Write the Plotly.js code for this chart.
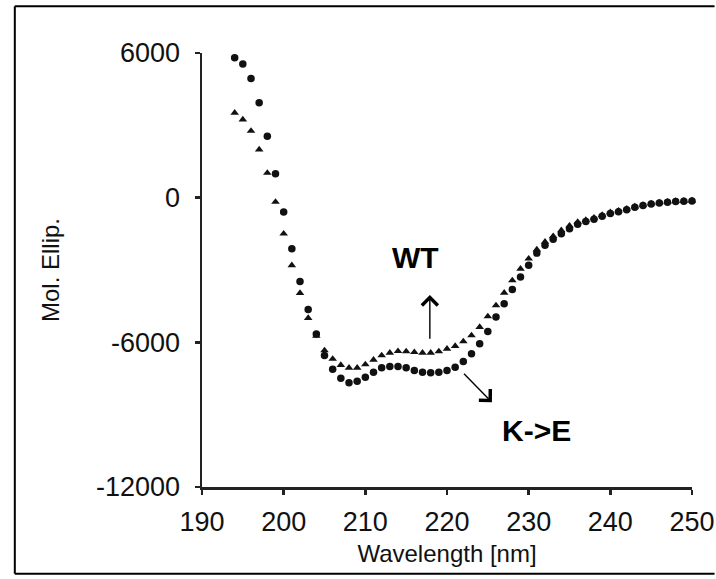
<!DOCTYPE html>
<html>
<head>
<meta charset="utf-8">
<script src="https://cdn.plot.ly/plotly-3.0.1.min.js"></script>
<style>
  html, body { margin: 0; padding: 0; background: #fff; overflow: hidden; }
  #chart { width: 716px; height: 579px; }
</style>
</head>
<body>
<div id="chart"></div>
<script>
// Wavelength (nm)
const wavelength = [194,195,196,197,198,199,200,201,202,203,204,205,206,207,208,209,210,211,212,213,214,215,216,217,218,219,220,221,222,223,224,225,226,227,228,229,230,231,232,233,234,235,236,237,238,239,240,241,242,243,244,245,246,247,248,249,250];

// WT (triangles)
const wtValues = [3517,3239,2769,1993,1025,-179,-1495,-2808,-3957,-4995,-5730,-6336,-6690,-6940,-7057,-7057,-6919,-6725,-6545,-6434,-6365,-6379,-6407,-6434,-6434,-6379,-6268,-6157,-5963,-5714,-5368,-4925,-4468,-3944,-3431,-2948,-2533,-2150,-1830,-1600,-1355,-1160,-1010,-930,-830,-720,-610,-540,-460,-370,-300,-240,-200,-170,-140,-130,-120];

// K->E (circles)
const keValues = [5800,5539,4941,3932,2549,997,-594,-2117,-3472,-4634,-5650,-6544,-7120,-7490,-7680,-7611,-7445,-7237,-7058,-7002,-7002,-7058,-7168,-7237,-7266,-7237,-7168,-7029,-6794,-6477,-6062,-5548,-4953,-4401,-3805,-3293,-2808,-2300,-1977,-1728,-1495,-1287,-1100,-990,-890,-770,-660,-580,-500,-400,-330,-260,-220,-190,-160,-150,-140];

const xTicks = [190,200,210,220,230,240,250];
const yTicks = [-12000,-6000,0,6000];
const yTickText = ['-12000','-6000','0','6000'];

const seriesNames = ['WT', 'K->E'];

const traces = [
  {
    x: wavelength, y: keValues, name: seriesNames[1], type: 'scatter', mode: 'markers',
    marker: { symbol: 'circle', size: 7.5, color: '#111' }, cliponaxis: false
  },
  {
    x: wavelength, y: wtValues, name: seriesNames[0], type: 'scatter', mode: 'markers',
    marker: { symbol: 'triangle-up', size: 7.5, color: '#111' }, cliponaxis: false
  }
];

const axisFont = { family: 'Liberation Sans, Arial, sans-serif', size: 27, color: '#111' };
const titleFont = { family: 'Liberation Sans, Arial, sans-serif', size: 24, color: '#111' };
const labelFont = { family: 'Liberation Sans, Arial, sans-serif', size: 30, color: '#000', weight: 'bold' };

const frameLine = { color: '#000', width: 2 };
const arrowStyle = { showarrow: true, arrowhead: 4, arrowsize: 2.2, arrowwidth: 1.4, arrowcolor: '#000', standoff: 0, startstandoff: 0, text: '' };

const layout = {
  width: 716, height: 579,
  margin: { l: 202, r: 24, t: 53, b: 92 },
  paper_bgcolor: '#fff', plot_bgcolor: '#fff',
  showlegend: false,
  xaxis: {
    range: [190, 250], tickvals: xTicks, ticktext: xTicks.map(String),
    showgrid: false, zeroline: false, showline: true, linecolor: '#222', linewidth: 2.5,
    ticks: 'outside', ticklen: 5, tickwidth: 2.5, tickcolor: '#222',
    tickfont: axisFont, ticklabelstandoff: 4,
    title: { text: 'Wavelength [nm]', font: titleFont, standoff: 10 }
  },
  yaxis: {
    range: [-12000, 6000], tickvals: yTicks, ticktext: yTickText,
    showgrid: false, zeroline: false, showline: true, linecolor: '#222', linewidth: 2.5,
    ticks: 'outside', ticklen: 5, tickwidth: 2.5, tickcolor: '#222',
    tickfont: axisFont, ticklabelstandoff: 9,
    title: { text: 'Mol. Ellip.', font: titleFont, standoff: 30 }
  },
  shapes: [
    { type: 'line', xref: 'paper', yref: 'paper', x0: -0.382, x1: -0.382, y0: -0.2, y1: 1.108, line: frameLine },
    { type: 'line', xref: 'paper', yref: 'paper', x0: -0.382, x1: 1.046, y0: 1.108, y1: 1.108, line: frameLine },
    { type: 'line', xref: 'paper', yref: 'paper', x0: -0.382, x1: 1.046, y0: -0.2, y1: -0.2, line: frameLine }
  ],
  annotations: [
    { x: 216.2, y: -2462, xref: 'x', yref: 'y', text: seriesNames[0], showarrow: false, font: labelFont },
    { x: 231.0, y: -9645, xref: 'x', yref: 'y', text: seriesNames[1], showarrow: false, font: labelFont },
    Object.assign({ x: 217.9, y: -4040, ax: 217.9, ay: -5909, xref: 'x', yref: 'y', axref: 'x', ayref: 'y' }, arrowStyle),
    Object.assign({ x: 225.5, y: -8482, ax: 221.9, ay: -7237, xref: 'x', yref: 'y', axref: 'x', ayref: 'y' }, arrowStyle)
  ]
};

Plotly.newPlot('chart', traces, layout, { displayModeBar: false, staticPlot: true });
</script>
</body>
</html>
